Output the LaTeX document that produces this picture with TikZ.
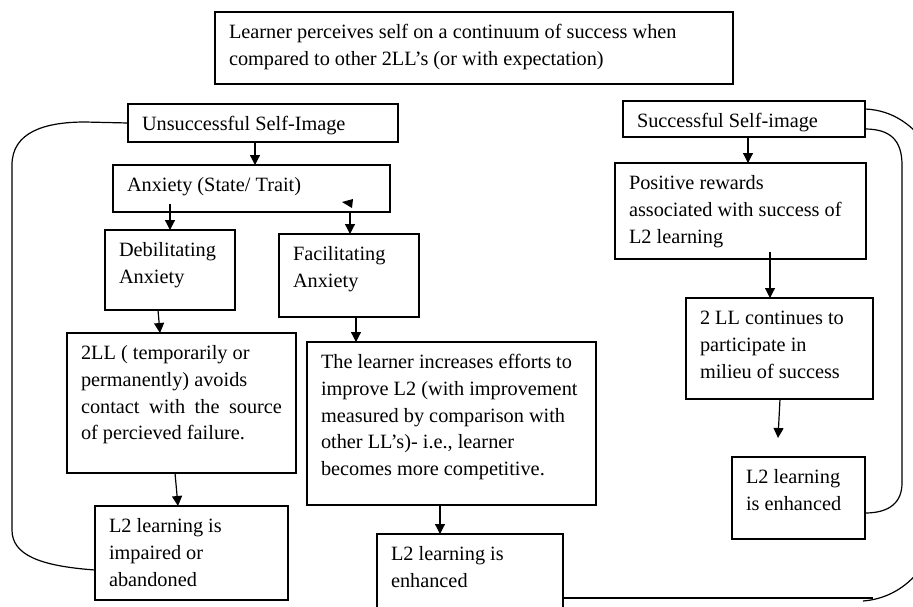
\documentclass[tikz,border=0pt]{standalone}
\usepackage{fontspec}
\setmainfont{Liberation Serif}
\usetikzlibrary{arrows.meta}
\newcommand\mkbox[6]{%
  \node[boxst] (#1) at (#2,#3)
   {\parbox[c][\dimexpr #5pt-#3pt-16pt\relax][t]{\dimexpr #4pt-#2pt-28pt\relax}{\raggedright\strut #6}};}
\tikzset{
  boxst/.style={draw, line width=1.2pt, anchor=north west, inner xsep=14pt, inner ysep=8pt, outer sep=0pt,
    font=\fontsize{20.3}{26.7}\selectfont},
  arr/.style={line width=1.2pt, -{Triangle[width=10pt,length=10pt]}},
  link/.style={line width=1.2pt}
}
\begin{document}
\begin{tikzpicture}[x=1pt,y=-1pt]
\useasboundingbox (0,0) rectangle (913,606);
% boxes
\mkbox{top}{215}{12}{733}{84}{Learner perceives self on a continuum of success when\\compared to other 2LL’s (or with expectation)}
\mkbox{unsucc}{128}{104}{398}{142}{Unsuccessful Self-Image}
\mkbox{anx}{113}{165}{390}{212}{Anxiety (State/ Trait)}
\mkbox{deb}{105}{230}{235}{310}{Debilitating\\Anxiety}
\mkbox{fac}{279}{234}{419}{317}{Facilitating\\Anxiety}
\mkbox{avoid}{67}{333}{296}{473}{2LL ( temporarily or\\permanently) avoids\\\makebox[\linewidth][s]{contact with the source}\\of percieved failure.}
\mkbox{impaired}{95}{506}{288}{600}{L2 learning is\\impaired or\\abandoned}
\mkbox{incr}{307}{342}{596}{505}{The learner increases efforts to\\improve L2 (with improvement\\measured by comparison with\\other LL’s)- i.e., learner\\becomes more competitive.}
\mkbox{enh1}{377}{534}{563}{608}{L2 learning is\\enhanced}
\mkbox{succ}{623}{101}{865}{137}{Successful Self-image}
\mkbox{pos}{615}{163}{866}{259}{Positive rewards\\associated with success of\\L2 learning}
\mkbox{cont}{686}{298}{873}{399}{2 LL continues to\\participate in\\milieu of success}
\mkbox{enh2}{732}{457}{865}{539}{L2 learning\\is enhanced}
% arrows
\draw[arr] ([xshift=127pt]unsucc.south west) -- ([xshift=142pt]anx.north west);
\draw[arr] ([xshift=57pt,yshift=8pt]anx.south west) -- ([xshift=65pt]deb.north west);
\draw[arr] ([xshift=237pt]anx.south west) -- ([xshift=71pt]fac.north west);
\fill (342,202) -- (353,199) -- (352,208) -- cycle;
\draw[arr] ([xshift=53pt]deb.south west) -- ([xshift=93pt]avoid.north west);
\draw[arr] ([xshift=77pt]fac.south west) -- ([xshift=49pt]incr.north west);
\draw[arr] ([xshift=108pt]avoid.south west) -- ([xshift=83pt]impaired.north west);
\draw[arr] ([xshift=133pt]incr.south west) -- ([xshift=63pt]enh1.north west);
\draw[arr] ([xshift=125pt]succ.south west) -- ([xshift=133pt]pos.north west);
\draw[arr] ([xshift=155pt,yshift=7pt]pos.south west) -- ([xshift=84pt]cont.north west);
\draw[arr] ([xshift=94pt]cont.south west) -- ([xshift=46pt,yshift=19pt]enh2.north west);
% feedback loops
\draw[link] ([yshift=30pt]impaired.south west) .. controls (40,566) and (12,555) .. (12,530)
  -- (12,165) .. controls (12,132) and (45,122) .. (85,122) -- (unsucc.west);
\coordinate (bend) at (873,598);
\draw[link] ([yshift=-64pt]enh1.north east) -- (bend);
\draw[link] ([yshift=-8pt]succ.north east) .. controls (893,110) and (915,126) .. (930,150)
  -- (935,540) .. controls (925,572) and (900,598) .. (863,601);
\draw[link] ([yshift=8pt]succ.south east) .. controls (890,129) and (902,140) .. (902,165)
  -- (902,483) .. controls (902,502) and (890,513) .. ([yshift=26pt]enh2.south east);
\end{tikzpicture}
\end{document}
